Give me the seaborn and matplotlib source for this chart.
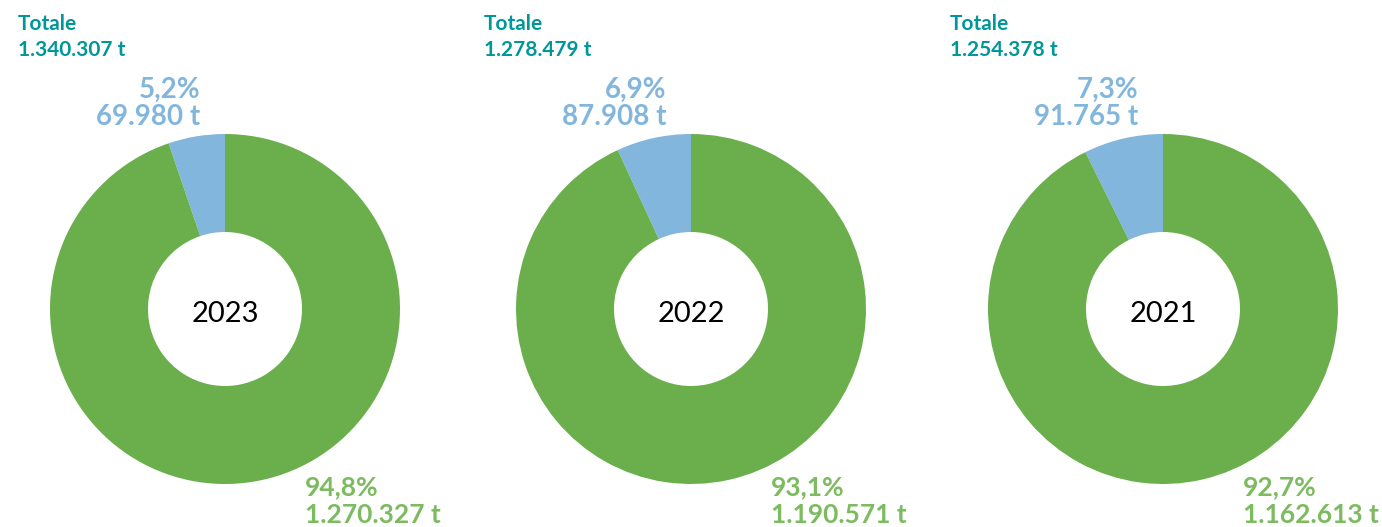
import matplotlib
matplotlib.use('Agg')
import matplotlib.pyplot as plt
import seaborn as sns

# Data
years = ['2023', '2022', '2021']
green_values = [1270327, 1190571, 1162613]
blue_values = [69980, 87908, 91765]
totals = [1340307, 1278479, 1254378]

GREEN = '#6aaf4c'
BLUE = '#82b6dc'
TEAL = '#00969a'
GREEN_TXT = '#7dbb60'
BLUE_TXT = '#82b6dc'

sns.set_theme(style='white')
plt.rcParams['font.family'] = ['Lato', 'DejaVu Sans']

W, H = 1382, 527
fig = plt.figure(figsize=(W / 100, H / 100), dpi=100)


def fx(x):
    return x / W


def fy(y):
    return 1 - y / H


def fmt_t(v):
    return f'{v:,}'.replace(',', '.') + ' t'


def fmt_pct(v, tot):
    return f'{100 * v / tot:.1f}'.replace('.', ',') + '%'


centers = [225, 691, 1163]
totale_x = [18, 484, 950]
cy = 309
r_out, r_in = 175, 77

for i, year in enumerate(years):
    cx = centers[i]
    ax = fig.add_axes([fx(cx - r_out), fy(cy + r_out), 2 * r_out / W, 2 * r_out / H])
    ax.pie([blue_values[i], green_values[i]], colors=[BLUE, GREEN], startangle=90,
           counterclock=True, radius=1,
           wedgeprops=dict(width=(r_out - r_in) / r_out, linewidth=0))
    ax.set_xlim(-1, 1)
    ax.set_ylim(-1, 1)
    ax.set_aspect('equal')
    ax.axis('off')
    ax.text(0, -0.03, year, ha='center', va='center', fontsize=21, color='black')

    # total
    fig.text(fx(totale_x[i]), fy(24), 'Totale', ha='left', va='center',
             fontsize=15, fontweight='bold', color=TEAL)
    fig.text(fx(totale_x[i]), fy(50), fmt_t(totals[i]), ha='left', va='center',
             fontsize=15, fontweight='bold', color=TEAL)

    # blue label
    fig.text(fx(cx - 25), fy(90), fmt_pct(blue_values[i], totals[i]), ha='right',
             va='center', fontsize=20, fontweight='bold', color=BLUE_TXT)
    fig.text(fx(cx - 25), fy(117), fmt_t(blue_values[i]), ha='right',
             va='center', fontsize=20, fontweight='bold', color=BLUE_TXT)

    # green label
    fig.text(fx(cx + 80), fy(487), fmt_pct(green_values[i], totals[i]), ha='left',
             va='center', fontsize=19, fontweight='bold', color=GREEN_TXT)
    fig.text(fx(cx + 80), fy(515), fmt_t(green_values[i]), ha='left',
             va='center', fontsize=19, fontweight='bold', color=GREEN_TXT)

fig.savefig('out.png', dpi=100)
